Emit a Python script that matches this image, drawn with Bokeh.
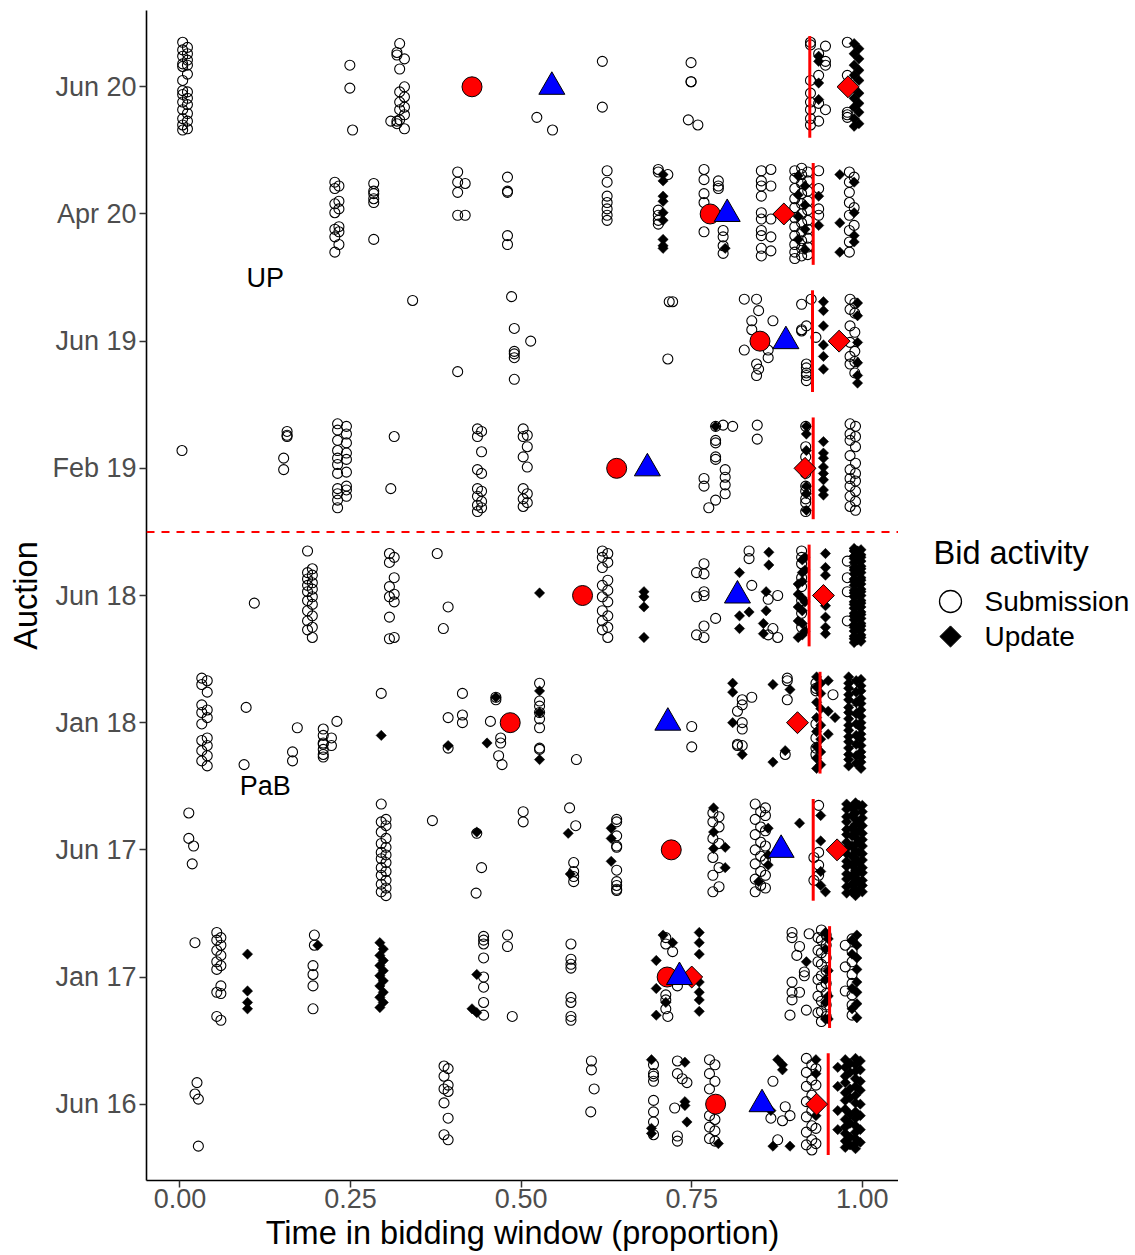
import numpy as np
from bokeh.plotting import figure
from bokeh.models import Range1d, FixedTicker, NumeralTickFormatter, Span
from bokeh.layouts import row
from bokeh.embed import file_html
from bokeh.resources import INLINE
from bokeh.core.properties import value

FONT = "Liberation Sans"

# ---------------- data ----------------
AUCTIONS = ["Jun 16", "Jan 17", "Jun 17", "Jan 18", "Jun 18", "Feb 19", "Jun 19", "Apr 20", "Jun 20"]
SUB_MEAN = [0.785, 0.714, 0.720, 0.484, 0.590, 0.640, 0.850, 0.777, 0.428]
ALL_MEAN = [0.853, 0.732, 0.881, 0.715, 0.817, 0.685, 0.888, 0.802, 0.545]
UPD_MEAN = [0.933, 0.750, 0.963, 0.905, 0.943, 0.916, 0.966, 0.885, 0.979]
CUTOFF = [0.950, 0.952, 0.928, 0.938, 0.922, 0.928, 0.927, 0.928, 0.923]
ANNOT_TEXT = ["UP", "PaB"]
ANNOT_X = [0.125, 0.125]
ANNOT_Y = [7.5, 3.5]
X_TICKS = [0.0, 0.25, 0.5, 0.75, 1.0]
LEGEND_LABELS = ["Submission", "Update"]

# (time, [vertical jitter offsets]) clusters
SUB_JUN20 = [
    (0.004, [0.35, 0.29, 0.24, 0.18, 0.16, 0.05, -0.03, -0.06, -0.12, -0.18, -0.25, -0.30, -0.34]),
    (0.011, [0.31, 0.26, 0.21, 0.17, 0.10, -0.04, -0.09, -0.14, -0.21, -0.27, -0.33]),
    (0.249, [0.17, -0.01]), (0.253, [-0.34]),
    (0.318, [0.27, 0.25, -0.27, -0.29]),
    (0.322, [0.34, 0.14, -0.04, -0.12, -0.18, -0.26]),
    (0.329, [0.22, 0.00, -0.08, -0.16, -0.22, -0.33]),
    (0.309, [-0.27]), (0.523, [-0.24]), (0.546, [-0.34]), (0.619, [0.20, -0.16]),
    (0.749, [0.19, 0.04, 0.04]), (0.745, [-0.26]), (0.759, [-0.30]),
    (0.924, [0.35, 0.33, 0.05, -0.05, -0.12, -0.18, -0.25, -0.30]),
    (0.936, [0.26, 0.09, -0.13, -0.27]),
    (0.946, [0.32, 0.20, 0.17, -0.18]),
    (0.978, [0.35, 0.09, 0.01, -0.20, -0.22, -0.24]),
]
UPD_JUN20 = [
    (0.936, [0.24, 0.20, 0.03, -0.10]),
    (0.988, [0.34, 0.26, 0.17, 0.09, -0.01, -0.09, -0.16, -0.25, -0.31]),
    (0.995, [0.30, 0.22, 0.13, 0.05, -0.05, -0.13, -0.20, -0.29]),
]

SUB_APR20 = [
    (0.227, [0.25, 0.20, 0.08, 0.01, -0.12, -0.18, -0.30]),
    (0.233, [0.22, 0.10, 0.04, -0.10, -0.14, -0.24]),
    (0.284, [0.24, 0.18, 0.16, 0.12, 0.09, -0.20]),
    (0.407, [0.33, 0.25, 0.17, -0.01]), (0.418, [0.24, -0.01]),
    (0.480, [0.29, 0.18, 0.17, -0.17, -0.24]),
    (0.626, [0.34, 0.25, 0.14, 0.09, 0.04, -0.01, -0.05]),
    (0.701, [0.35, 0.33, 0.03, -0.01, -0.05, -0.08]), (0.715, [0.31]),
    (0.768, [0.35, 0.27, 0.16, 0.09, -0.14]), (0.789, [0.26, 0.22, 0.20]),
    (0.796, [-0.13, -0.18, -0.25, -0.31]),
    (0.852, [0.34, 0.26, 0.22, 0.14, 0.01, -0.04, -0.13, -0.17, -0.27, -0.33]),
    (0.866, [0.35, 0.22, -0.04, -0.18, -0.29]),
    (0.901, [0.34, 0.28, 0.20, 0.12, 0.05, -0.03, -0.10, -0.17, -0.24, -0.30, -0.35]),
    (0.911, [0.36, 0.31, 0.24, 0.16, 0.08, 0.00, -0.07, -0.14, -0.21, -0.27, -0.33]),
    (0.920, [0.33, 0.26, 0.18, 0.10, 0.03, -0.05, -0.12, -0.19, -0.26, -0.32]),
    (0.936, [0.34, 0.20, 0.04, -0.01]),
    (0.981, [0.33, 0.25, 0.17, 0.09, -0.01, -0.13, -0.22, -0.30]),
    (0.988, [0.29, 0.05, -0.09]),
]
UPD_APR20 = [
    (0.708, [0.31, 0.26, 0.14, 0.10, 0.01, -0.05, -0.20, -0.25, -0.27]),
    (0.799, [-0.27]),
    (0.906, [0.30, 0.15, -0.02, -0.20]), (0.916, [0.22, 0.07, -0.12, -0.28]),
    (0.936, [0.14, -0.09]),
    (0.967, [0.31, -0.07, -0.30]), (0.988, [0.25, 0.01, -0.17, -0.22]),
]

SUB_JUN19 = [
    (0.341, [0.32]), (0.486, [0.35]), (0.490, [0.10, -0.08, -0.10, -0.13, -0.30]), (0.514, [0.00]),
    (0.407, [-0.24]), (0.717, [0.31]), (0.722, [0.31]), (0.715, [-0.14]),
    (0.827, [0.33, -0.07]), (0.845, [0.33, -0.18, -0.27]), (0.848, [0.24, -0.22]),
    (0.838, [0.16, 0.09]), (0.869, [0.16]), (0.862, [-0.07, -0.13]),
    (0.911, [0.29, 0.09, 0.08]), (0.925, [0.33]),
    (0.918, [0.12, -0.18, -0.21, -0.25, -0.27, -0.31]), (0.932, [0.03]),
    (0.982, [0.33, 0.25, 0.12, -0.01, -0.12, -0.18]),
    (0.989, [0.30, 0.22, 0.07, -0.08, -0.16, -0.25]),
]
UPD_JUN19 = [
    (0.943, [0.31, 0.24, 0.12, -0.03, -0.12, -0.22]),
    (0.993, [0.30, 0.20, -0.01, -0.17, -0.27, -0.33]),
]

SUB_FEB19 = [
    (0.003, [0.14]), (0.157, [0.29, 0.26, 0.25]), (0.152, [0.08, -0.01]),
    (0.231, [0.35, 0.30, 0.22, 0.14, 0.08, 0.03, -0.04, -0.16, -0.20, -0.25, -0.31]),
    (0.244, [0.33, 0.27, 0.20, 0.12, 0.07, -0.03, -0.14, -0.17, -0.22]),
    (0.314, [0.25]), (0.309, [-0.16]),
    (0.436, [0.31, 0.25, -0.01, -0.16, -0.22, -0.29, -0.34]),
    (0.442, [0.29, 0.13, -0.04, -0.18, -0.26, -0.31]),
    (0.503, [0.31, 0.25, 0.09, -0.16, -0.24, -0.30]),
    (0.509, [0.26, 0.17, 0.01, -0.20, -0.27]),
    (0.785, [0.33, 0.22, 0.20, 0.09, 0.07, -0.25]), (0.796, [0.34]), (0.810, [0.33]),
    (0.799, [-0.01, -0.07, -0.13, -0.20]), (0.768, [-0.08, -0.14]), (0.775, [-0.31]),
    (0.846, [0.34, 0.23]),
    (0.917, [0.33, 0.17, 0.09, 0.00, -0.04, -0.14, -0.18, -0.24, -0.27, -0.34]),
    (0.982, [0.35, 0.27, 0.22, 0.10, -0.01, -0.08, -0.14, -0.22, -0.30]),
    (0.990, [0.33, 0.25, 0.17, 0.04, -0.04, -0.10, -0.18, -0.26, -0.33]),
]
UPD_FEB19 = [
    (0.785, [0.33]),
    (0.918, [0.33, 0.27, 0.14, -0.14, -0.20, -0.33]),
    (0.943, [0.21, 0.12, 0.08, 0.01, -0.04, -0.09, -0.17, -0.21]),
]

SUB_JUN18 = [
    (0.109, [-0.06]),
    (0.187, [0.35, 0.18, 0.13, 0.08, 0.03, -0.04, -0.12, -0.20, -0.27]),
    (0.194, [0.21, 0.16, 0.10, 0.05, -0.01, -0.07, -0.16, -0.25, -0.33]),
    (0.307, [0.33, 0.26, 0.07, -0.01, -0.17, -0.34]),
    (0.314, [0.30, 0.14, 0.01, -0.05, -0.33]),
    (0.377, [0.33]), (0.393, [-0.09]), (0.386, [-0.26]),
    (0.619, [0.35, 0.30, 0.22, 0.08, -0.01, -0.12, -0.20, -0.27]),
    (0.627, [0.33, 0.26, 0.12, 0.04, -0.05, -0.16, -0.25, -0.33]),
    (0.768, [0.25, 0.17, 0.03, 0.00, -0.24, -0.33]), (0.757, [0.18, -0.01, -0.31]), (0.785, [-0.18]),
    (0.834, [0.35, 0.29]), (0.838, [0.08]), (0.862, [-0.03, -0.31]), (0.876, [0.00, -0.33]),
    (0.869, [-0.26]),
    (0.911, [0.35, 0.30, 0.25, 0.14, 0.07, -0.04, -0.14, -0.25]),
    (0.978, [0.27, 0.14, 0.03, -0.20]),
]
UPD_JUN18 = [
    (0.527, [0.02]), (0.680, [0.03, -0.01, -0.09, -0.33]),
    (0.863, [0.34, 0.24]), (0.820, [0.18, -0.16, -0.26]), (0.859, [0.03, -0.12]),
    (0.834, [-0.13]), (0.855, [-0.22, -0.30]),
    (0.906, [0.09, 0.01, -0.09, -0.20, -0.33]), (0.912, [0.28, 0.18, 0.11, -0.02, -0.12, -0.22, -0.31]),
    (0.916, [0.30, 0.20, -0.05, -0.28]),
    (0.946, [0.33, 0.22, 0.16, -0.08, -0.17, -0.25, -0.30]),
    (0.988, [0.37, 0.35, 0.31, 0.29, 0.26, 0.22, 0.20, 0.17, 0.13, 0.11, 0.08, 0.04, 0.02, -0.01,
             -0.05, -0.07, -0.10, -0.14, -0.16, -0.19, -0.23, -0.25, -0.28, -0.32, -0.34, -0.37]),
    (0.993, [0.35, 0.28, 0.19, 0.10, 0.01, -0.08, -0.17, -0.26, -0.35]),
    (0.998, [0.36, 0.32, 0.30, 0.27, 0.23, 0.21, 0.18, 0.14, 0.12, 0.09, 0.05, 0.03, 0.00, -0.04,
             -0.06, -0.09, -0.13, -0.15, -0.18, -0.22, -0.24, -0.27, -0.31, -0.33, -0.36]),
]

SUB_JAN18 = [
    (0.032, [0.35, 0.30, 0.14, 0.08, -0.01, -0.14, -0.22, -0.30]),
    (0.040, [0.33, 0.24, 0.10, 0.04, -0.12, -0.18, -0.26, -0.34]),
    (0.097, [0.12]), (0.094, [-0.33]), (0.172, [-0.04]), (0.165, [-0.23, -0.30]),
    (0.210, [-0.05, -0.10, -0.16, -0.17, -0.21, -0.25, -0.27]), (0.230, [0.01]), (0.222, [-0.12, -0.18]),
    (0.295, [0.23]), (0.393, [0.04, -0.20]), (0.414, [0.23, 0.06, 0.00]),
    (0.455, [0.01]), (0.463, [0.20, 0.18]), (0.470, [-0.12, -0.16]), (0.467, [-0.26]), (0.472, [-0.33]),
    (0.527, [0.31, 0.17, 0.13, 0.08, 0.03, -0.04, -0.20, -0.21]),
    (0.581, [-0.29]), (0.750, [-0.03, -0.19]),
    (0.824, [0.18, 0.14, 0.00, -0.05, -0.18]), (0.838, [0.20]), (0.817, [0.09, -0.17, -0.18]),
    (0.890, [0.35, 0.33, 0.18]), (0.887, [-0.25]),
    (0.932, [0.31, 0.27, 0.25, -0.01, -0.12, -0.20, -0.25]), (0.957, [0.22]),
    (0.985, [0.30, 0.10, -0.15]),
]
UPD_JAN18 = [
    (0.295, [-0.10]), (0.393, [-0.18]), (0.463, [0.20]), (0.450, [-0.16]),
    (0.527, [0.25, 0.08, -0.29]),
    (0.810, [0.31, 0.24, 0.00]), (0.824, [-0.25]),
    (0.869, [0.30, -0.31]), (0.894, [0.26]), (0.887, [-0.22]),
    (0.933, [0.36, 0.28, 0.16, 0.04, -0.07, -0.19, -0.28, -0.36]),
    (0.939, [0.31, 0.23, 0.11, -0.02, -0.13, -0.23, -0.33]),
    (0.950, [0.33, 0.09, -0.09]), (0.960, [0.04]),
    (0.980, [0.36, 0.31, 0.27, 0.22, 0.18, 0.12, 0.08, 0.03, -0.02, -0.06, -0.11, -0.15, -0.20,
             -0.25, -0.29, -0.34]),
    (0.991, [0.33, 0.24, 0.16, 0.07, -0.01, -0.10, -0.17, -0.26, -0.32]),
    (0.998, [0.34, 0.29, 0.25, 0.19, 0.15, 0.10, 0.05, 0.00, -0.04, -0.09, -0.13, -0.18, -0.23,
             -0.27, -0.31, -0.36]),
]

SUB_JUN17 = [
    (0.013, [0.29, 0.09]), (0.020, [0.03]), (0.018, [-0.11]),
    (0.295, [0.36, 0.22, 0.14, 0.05, -0.02, -0.07, -0.14, -0.20, -0.27, -0.33]),
    (0.302, [0.24, 0.19, 0.09, 0.02, -0.04, -0.10, -0.17, -0.24, -0.30, -0.36]),
    (0.370, [0.23]), (0.435, [0.13]), (0.442, [-0.14]), (0.434, [-0.34]),
    (0.503, [0.30, 0.22]), (0.571, [0.33]), (0.580, [0.19]), (0.577, [-0.10, -0.17, -0.21, -0.25]),
    (0.640, [0.24, 0.22, 0.11, 0.03, 0.02, -0.16, -0.25, -0.28, -0.31, -0.32]),
    (0.781, [0.29, 0.22, 0.09, -0.06, -0.20, -0.33]),
    (0.790, [0.26, 0.18, 0.05, -0.14, -0.29]),
    (0.843, [0.36, 0.24, 0.12, 0.00, -0.11, -0.23, -0.33]),
    (0.851, [0.30, 0.18, 0.06, -0.05, -0.17, -0.28]),
    (0.858, [0.33, 0.27, 0.15, 0.03, -0.08, -0.20, -0.30]),
    (0.936, [0.35, -0.02, -0.12, -0.20]), (0.929, [-0.06, -0.24]),
]
UPD_JUN17 = [
    (0.435, [0.14]), (0.569, [0.13]), (0.572, [-0.19]), (0.632, [0.17, 0.09, -0.09]),
    (0.782, [0.33, 0.14, 0.01]), (0.799, [0.02, -0.14]),
    (0.862, [0.17, -0.04, -0.12]), (0.848, [-0.25]), (0.908, [0.21]),
    (0.939, [0.27, 0.07, -0.17, -0.28]), (0.946, [-0.33]),
    (0.977, [0.36, 0.32, 0.26, 0.22, 0.16, 0.12, 0.06, 0.01, -0.03, -0.09, -0.13, -0.19, -0.23, -0.29, -0.34]),
    (0.985, [0.33, 0.27, 0.17, 0.11, 0.03, -0.05, -0.12, -0.20, -0.27, -0.33]),
    (0.990, [0.37, 0.34, 0.29, 0.24, 0.20, 0.14, 0.10, 0.04, -0.01, -0.07, -0.11, -0.16, -0.22,
             -0.26, -0.31, -0.36]),
    (0.995, [0.35, 0.22, 0.15, 0.06, -0.02, -0.10, -0.17, -0.25, -0.32]),
    (1.000, [0.35, 0.30, 0.25, 0.19, 0.13, 0.08, 0.03, -0.03, -0.08, -0.14, -0.18, -0.24, -0.28, -0.33]),
]

SUB_JAN17 = [
    (0.022, [0.27]),
    (0.054, [0.35, 0.29, 0.21, 0.12, 0.06, -0.12, -0.31]),
    (0.060, [0.31, 0.25, 0.17, 0.09, -0.07, -0.13, -0.34]),
    (0.197, [0.33, 0.25]), (0.195, [0.09, 0.02, -0.07, -0.25]),
    (0.445, [0.32, 0.29, 0.26, 0.15, 0.00, -0.08, -0.20, -0.30]),
    (0.480, [0.33, 0.24]), (0.487, [-0.31]),
    (0.573, [0.26, 0.14, 0.10, 0.07, -0.16, -0.20, -0.31, -0.34]),
    (0.712, [0.31, 0.26, -0.14, -0.18, -0.25]), (0.722, [0.20]), (0.729, [-0.07]), (0.715, [-0.31]),
    (0.897, [0.35, 0.31, -0.04, -0.12, -0.18]), (0.922, [0.34]), (0.908, [0.24, -0.12]),
    (0.904, [0.17]), (0.915, [0.04, 0.01]), (0.894, [-0.30]), (0.918, [-0.26]),
    (0.935, [0.31, 0.21, 0.12, -0.02, -0.15, -0.28]),
    (0.940, [0.37, 0.29, 0.19, 0.10, 0.01, -0.08, -0.19, -0.27, -0.35]),
    (0.947, [0.33, 0.25, 0.15, 0.05, -0.05, -0.13, -0.22, -0.31]),
    (0.975, [0.25, 0.08, -0.11]),
    (0.985, [0.30, 0.20, 0.12, 0.02, -0.05, -0.14, -0.22, -0.30]),
]
UPD_JAN17 = [
    (0.099, [0.18, -0.11, -0.20, -0.25]), (0.202, [0.25]),
    (0.293, [0.27, 0.17, 0.09, 0.01, -0.07, -0.16, -0.24]),
    (0.298, [0.22, 0.13, 0.05, -0.03, -0.12, -0.20]),
    (0.435, [0.02]), (0.428, [-0.25]), (0.435, [-0.28]),
    (0.708, [0.33]), (0.698, [0.13, -0.09, -0.30]), (0.722, [0.27]), (0.712, [-0.20]),
    (0.761, [0.35, 0.27, 0.18, -0.04, -0.12, -0.18, -0.27]),
    (0.918, [0.12]), (0.946, [0.35, 0.22, -0.02, -0.20, -0.33]),
    (0.950, [0.30, 0.05, -0.15, -0.33]),
    (0.985, [0.29, 0.18, -0.09, -0.25]),
    (0.992, [0.33, 0.25, 0.15, 0.06, -0.04, -0.12, -0.21, -0.32]),
]

SUB_JUN16 = [
    (0.025, [0.17]), (0.022, [0.08]), (0.027, [0.04, -0.33]),
    (0.387, [0.30, 0.22, 0.12, 0.01, -0.24]), (0.393, [0.28, 0.15, 0.10, -0.11, -0.28]),
    (0.603, [0.34, 0.27]), (0.607, [0.12]), (0.602, [-0.06]),
    (0.694, [0.31, 0.24, 0.22, 0.18, 0.03, -0.06, -0.14, -0.24]),
    (0.729, [0.34, 0.24, -0.25, -0.29]), (0.736, [0.20]), (0.743, [0.17]), (0.725, [-0.03]),
    (0.776, [0.35, 0.24, 0.12, -0.09, -0.18, -0.27]),
    (0.784, [0.31, 0.18, 0.00, -0.12, -0.21, -0.29]),
    (0.869, [0.18]), (0.887, [-0.02]), (0.866, [-0.11]), (0.883, [-0.13]), (0.876, [-0.28]),
    (0.894, [-0.09]),
    (0.918, [0.36, 0.25, 0.14, 0.02, -0.10, -0.22, -0.32]),
    (0.926, [0.31, 0.19, 0.07, -0.05, -0.17, -0.28, -0.36]),
    (0.932, [0.28, 0.15, -0.02, -0.19, -0.31]),
]
UPD_JUN16 = [
    (0.691, [0.35, -0.19, -0.23]), (0.740, [0.33, 0.02, -0.01]), (0.743, [-0.14]), (0.789, [-0.31]),
    (0.876, [0.35]), (0.883, [0.31, 0.27]), (0.866, [-0.05]), (0.894, [-0.33]), (0.869, [-0.33]),
    (0.932, [0.35, 0.24, -0.09]), (0.964, [0.29, 0.14, -0.05, -0.20]),
    (0.975, [0.35, 0.29, 0.22, 0.17, 0.09, 0.03, -0.04, -0.12, -0.18, -0.23, -0.29, -0.34]),
    (0.982, [0.32, 0.25, 0.12, 0.05, -0.08, -0.15, -0.26, -0.32]),
    (0.990, [0.36, 0.31, 0.26, 0.20, 0.14, 0.07, 0.01, -0.06, -0.11, -0.17, -0.22, -0.27, -0.31, -0.35]),
    (0.997, [0.34, 0.27, 0.18, 0.11, 0.00, -0.09, -0.20, -0.30]),
]

SUBMISSIONS = [SUB_JUN16, SUB_JAN17, SUB_JUN17, SUB_JAN18, SUB_JUN18, SUB_FEB19, SUB_JUN19, SUB_APR20, SUB_JUN20]
UPDATES = [UPD_JUN16, UPD_JAN17, UPD_JUN17, UPD_JAN18, UPD_JUN18, UPD_FEB19, UPD_JUN19, UPD_APR20, UPD_JUN20]


def expand(per_row):
    xs, ys = [], []
    for r, clusters in enumerate(per_row):
        for x, offs in clusters:
            for d in offs:
                xs.append(x)
                ys.append(r + 1 + d)
    return xs, ys


pos = list(range(1, len(AUCTIONS) + 1))
sub_x, sub_y = expand(SUBMISSIONS)
upd_x, upd_y = expand(UPDATES)

W_MAIN, W_LEG, H = 898, 237, 1255
TOP, BOTTOM = 10, 75

p = figure(width=W_MAIN, height=H, x_range=Range1d(-0.049, 1.053), y_range=Range1d(0.4, 9.6),
           output_backend="svg", toolbar_location=None,
           min_border_left=146, min_border_right=0, min_border_top=TOP, min_border_bottom=BOTTOM)
p.grid.visible = False
p.outline_line_color = None
p.background_fill_color = "white"

# points
p.scatter(sub_x, sub_y, marker="circle", size=10, fill_alpha=0, line_color="black", line_width=1.1)
p.scatter(upd_x, upd_y, marker="square", angle=np.pi / 4, size=7.3, fill_color="black",
          line_color="black", line_width=0.5)

# cutoff lines
p.segment(x0=CUTOFF, x1=CUTOFF, y0=[v - 0.4 for v in pos], y1=[v + 0.4 for v in pos],
          line_color="red", line_width=3)

# divider between the two formats
p.add_layout(Span(location=(pos[4] + pos[5]) / 2, dimension="width", line_color="red",
                  line_width=2, line_dash="8 7"))

# means
p.scatter(SUB_MEAN, pos, marker="circle", size=20, fill_color="red", line_color="black", line_width=1)
p.scatter(UPD_MEAN, pos, marker="square", angle=np.pi / 4, size=15.5, fill_color="red",
          line_color="black", line_width=1)
p.scatter(ALL_MEAN, pos, marker="triangle", size=26, fill_color="blue", line_color="black", line_width=1)

p.text(ANNOT_X, ANNOT_Y, text=ANNOT_TEXT, text_font=value(FONT), text_font_size="27px",
       text_align="center", text_baseline="middle", text_color="black")

# axes
p.xaxis.ticker = FixedTicker(ticks=X_TICKS)
p.xaxis.formatter = NumeralTickFormatter(format="0.00")
p.yaxis.ticker = FixedTicker(ticks=pos)
p.yaxis.major_label_overrides = {v: a for v, a in zip(pos, AUCTIONS)}
p.xaxis.axis_label = "Time in bidding window (proportion)"
p.yaxis.axis_label = "Auction"
for ax in (p.xaxis[0], p.yaxis[0]):
    ax.axis_line_color = "black"
    ax.axis_line_width = 1.6
    ax.major_tick_line_color = "#333333"
    ax.major_tick_line_width = 1.5
    ax.major_tick_out = 7
    ax.major_tick_in = 0
    ax.minor_tick_line_color = None
    ax.major_label_text_font = FONT
    ax.major_label_text_font_size = "27px"
    ax.major_label_text_color = "#4D4D4D"
    ax.axis_label_text_font = FONT
    ax.axis_label_text_font_size = "32.5px"
    ax.axis_label_text_font_style = "normal"
    ax.axis_label_text_color = "black"
p.xaxis.major_label_standoff = 1
p.xaxis.axis_label_standoff = 4
p.yaxis.major_label_standoff = 3
p.yaxis.axis_label_standoff = 5

# legend panel (its frame is aligned with the main frame by the row layout,
# so its y range is expressed in page pixels of that frame: TOP .. H-BOTTOM)
lg = figure(width=W_LEG, height=H, x_range=Range1d(0, W_LEG), y_range=Range1d(H - BOTTOM, TOP),
            output_backend="svg", toolbar_location=None, min_border=0,
            min_border_top=TOP, min_border_bottom=BOTTOM,
            x_axis_location=None, y_axis_location=None)
lg.grid.visible = False
lg.outline_line_color = None
lg.text([35], [552], text=["Bid activity"], text_font=value(FONT), text_font_size="32.5px",
        text_align="left", text_baseline="middle", text_color="black")
lg.scatter([52], [601], marker="circle", size=22, fill_alpha=0, line_color="black", line_width=1.3)
lg.scatter([52], [636], marker="square", angle=np.pi / 4, size=15, fill_color="black", line_color="black")
lg.text([86, 86], [601, 636], text=LEGEND_LABELS, text_font=value(FONT), text_font_size="28px",
        text_align="left", text_baseline="middle", text_color="black")

layout = row(p, lg, spacing=0)
open("out.html", "w").write(file_html(layout, INLINE))
